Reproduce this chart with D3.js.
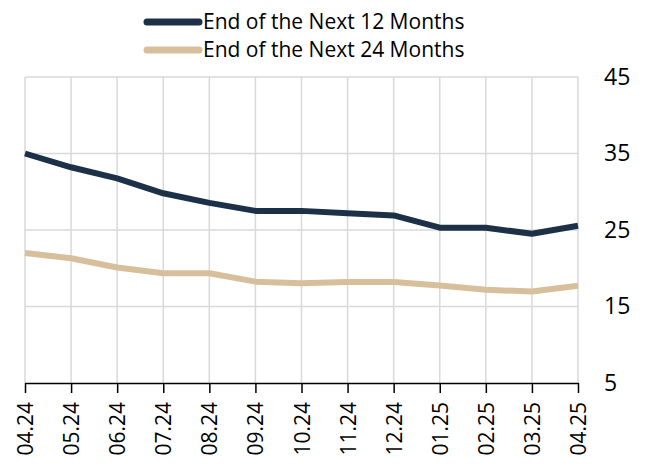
<!DOCTYPE html>
<html>
<head>
<meta charset="utf-8">
<script src="https://cdn.jsdelivr.net/npm/d3@7"></script>
<style>
  body { margin: 0; background: #fff; }
  svg { display: block; font-family: "Open Sans", sans-serif; }
</style>
</head>
<body>
<svg id="chart" width="645" height="472"></svg>
<script>
const months = ["04.24", "05.24", "06.24", "07.24", "08.24", "09.24", "10.24",
  "11.24", "12.24", "01.25", "02.25", "03.25", "04.25"];
const next12 = [35.0, 33.2, 31.75, 29.8, 28.55, 27.5, 27.5, 27.2, 26.9, 25.3, 25.3, 24.5, 25.55];
const next24 = [22.0, 21.3, 20.1, 19.35, 19.35, 18.25, 18.05, 18.2, 18.2, 17.75, 17.2, 16.95, 17.7];
const yTicks = [5, 15, 25, 35, 45];

const series = [
  { name: "End of the Next 12 Months", values: next12, color: "#1c3148" },
  { name: "End of the Next 24 Months", values: next24, color: "#d7bf9b" }
];

const margin = { top: 77, right: 67, bottom: 89, left: 25 };
const svg = d3.select("#chart");
const width = +svg.attr("width") - margin.left - margin.right;
const height = +svg.attr("height") - margin.top - margin.bottom;

const g = svg.append("g").attr("transform", `translate(${margin.left},${margin.top})`);

const x = d3.scalePoint().domain(months).range([0, width]);
const y = d3.scaleLinear().domain([5, 45]).range([height, 0]);

// grid
g.append("g")
  .selectAll("line.v")
  .data(months)
  .join("line")
  .attr("x1", d => x(d)).attr("x2", d => x(d))
  .attr("y1", 0).attr("y2", height)
  .attr("stroke", "#d9d9d9").attr("stroke-width", 1.5);

g.append("g")
  .selectAll("line.h")
  .data(yTicks.filter(t => t > 5))
  .join("line")
  .attr("x1", 0).attr("x2", width)
  .attr("y1", d => y(d)).attr("y2", d => y(d))
  .attr("stroke", "#d9d9d9").attr("stroke-width", 1.5);

// x axis
const xAxis = g.append("g")
  .attr("transform", `translate(0,${height})`)
  .call(d3.axisBottom(x).tickSize(10).tickSizeOuter(0));
xAxis.select(".domain").attr("stroke", "#000").attr("stroke-width", 1.5);
xAxis.selectAll(".tick line").attr("stroke", "#000").attr("stroke-width", 1.5);
xAxis.selectAll(".tick text")
  .attr("font-family", "Open Sans, sans-serif")
  .attr("font-size", 21)
  .attr("fill", "#000")
  .attr("text-anchor", "end")
  .attr("transform", "rotate(-90)")
  .attr("x", -19)
  .attr("y", 0)
  .attr("dy", "0.36em");

// y axis (labels only, right side)
const yAxis = g.append("g")
  .attr("transform", `translate(${width},0)`)
  .call(d3.axisRight(y).tickValues(yTicks).tickSize(0).tickPadding(26));
yAxis.select(".domain").remove();
yAxis.selectAll(".tick text")
  .attr("font-family", "Open Sans, sans-serif")
  .attr("font-size", 23)
  .attr("fill", "#000");

// lines
const line = d3.line()
  .x((d, i) => x(months[i]))
  .y(d => y(d));

g.selectAll("path.series")
  .data(series)
  .join("path")
  .attr("class", "series")
  .attr("d", d => line(d.values))
  .attr("fill", "none")
  .attr("stroke", d => d.color)
  .attr("stroke-width", 6)
  .attr("stroke-linejoin", "round");

// legend
const legend = svg.append("g").attr("transform", "translate(147,22)");
const items = legend.selectAll("g")
  .data(series)
  .join("g")
  .attr("transform", (d, i) => `translate(0,${i * 28})`);
items.append("line")
  .attr("x1", 0).attr("x2", 52)
  .attr("stroke", d => d.color)
  .attr("stroke-width", 7)
  .attr("stroke-linecap", "round");
items.append("text")
  .attr("x", 56)
  .attr("dy", "0.35em")
  .attr("font-size", 21)
  .attr("fill", "#000")
  .text(d => d.name);
</script>
</body>
</html>
